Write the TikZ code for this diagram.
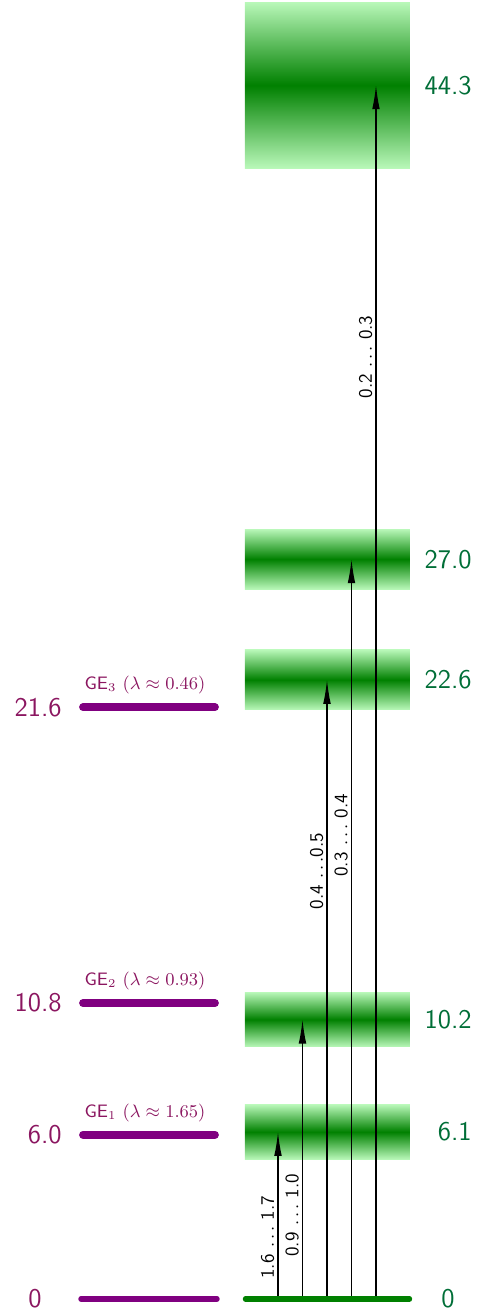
\documentclass[tikz,border=0pt]{standalone}
\usepackage{tikz}
\usetikzlibrary{arrows.meta}
\definecolor{gepurple}{RGB}{128,0,128}
\definecolor{getext}{RGB}{139,22,96}
\definecolor{bandcore}{RGB}{0,128,0}
\definecolor{bandedge}{RGB}{185,248,185}
\definecolor{bandtext}{RGB}{0,110,55}

\begin{document}
\begin{tikzpicture}[
  x=0.5pt, y=13.7pt,
  band/.style={rectangle, inner sep=0pt, minimum width=82.5pt, top color=bandedge, bottom color=bandedge, middle color=bandcore},
  level/.style={gepurple, line width=3.9pt, line cap=round},
  ground/.style={line width=2.7pt, line cap=round},
  num/.style={inner sep=0pt, font=\fontsize{13.5}{16}\sffamily},
  gelbl/.style={inner sep=0pt, anchor=south, yshift=4.5pt, xshift=-2pt, text=getext, font=\fontsize{9}{11}\selectfont},
  exc/.style={-{Latex[length=12pt,width=3.8pt]}, line width=0.65pt},
  rate/.style={sloped, above, inner sep=1.5pt, font=\fontsize{9.5}{12}\sffamily}
]
\useasboundingbox (0,-0.438) rectangle (477,47.41);

% excited bands
\node[band, minimum height=27.4pt] (b1) at (327.5,6.1) {};
\node[band, minimum height=27.4pt] (b2) at (327.5,10.2) {};
\node[band, minimum height=30.1pt] (b3) at (327.5,22.6) {};
\node[band, minimum height=30.1pt] (b4) at (327.5,27.0) {};
\node[band, minimum height=83pt] (b5) at (327.5,44.3) {};

% ground-state levels
\coordinate (p0a) at (81,0);
\coordinate (p0b) at (217,0);
\coordinate (p1a) at (83,6.0);
\coordinate (p1b) at (215,6.0);
\coordinate (p2a) at (83,10.8);
\coordinate (p2b) at (215,10.8);
\coordinate (p3a) at (83,21.6);
\coordinate (p3b) at (215,21.6);
\draw[ground, gepurple] (p0a) -- (p0b);
\draw[level] (p1a) -- node[gelbl] (ge1) {\textsf{GE}$_1$ $(\lambda\approx1.65)$} (p1b);
\draw[level] (p2a) -- node[gelbl] (ge2) {\textsf{GE}$_2$ $(\lambda\approx0.93)$} (p2b);
\draw[level] (p3a) -- node[gelbl] (ge3) {\textsf{GE}$_3$ $(\lambda\approx0.46)$} (p3b);

% transitions
\coordinate (s1) at (278,0);
\coordinate (s2) at (302.5,0);
\coordinate (s3) at (327,0);
\coordinate (s4) at (351.5,0);
\coordinate (s5) at (376,0);
\draw[exc] (s1) -- node[rate, pos=0.37] (t1) {1.6 $\ldots$ 1.7} (s1 |- b1.center);
\draw[exc] (s2) -- node[rate, pos=0.30] (t2) {0.9 $\ldots$ 1.0} (s2 |- b2.center);
\draw[exc] (s3) -- node[rate, pos=0.691] (t3) {0.4 $\ldots$0.5} (s3 |- b3.center);
\draw[exc] (s4) -- node[rate, pos=0.627] (t4) {0.3 $\ldots$ 0.4} (s4 |- b4.center);
\draw[exc] (s5) -- node[rate, pos=0.776] (t5) {0.2 $\ldots$ 0.3} (s5 |- b5.center);

\coordinate (g0a) at (245.5,0);
\coordinate (g0b) at (409.5,0);
\draw[ground, bandcore] (g0a) -- (g0b);

% energies
\node[num, text=getext, anchor=east] (e0) at (42,0) {0};
\node[num, text=getext, anchor=east] (e1) at (62,6.0) {6.0};
\node[num, text=getext, anchor=east] (e2) at (62,10.8) {10.8};
\node[num, text=getext, anchor=east] (e3) at (62,21.6) {21.6};
\node[num, text=bandtext, anchor=west] (r0) at (441,0) {0};
\node[num, text=bandtext, anchor=east] (r1) at (472,6.1) {6.1};
\node[num, text=bandtext, anchor=east] (r2) at (472,10.2) {10.2};
\node[num, text=bandtext, anchor=east] (r3) at (472,22.6) {22.6};
\node[num, text=bandtext, anchor=east] (r4) at (472,27.0) {27.0};
\node[num, text=bandtext, anchor=east] (r5) at (472,44.3) {44.3};
\end{tikzpicture}
\end{document}
